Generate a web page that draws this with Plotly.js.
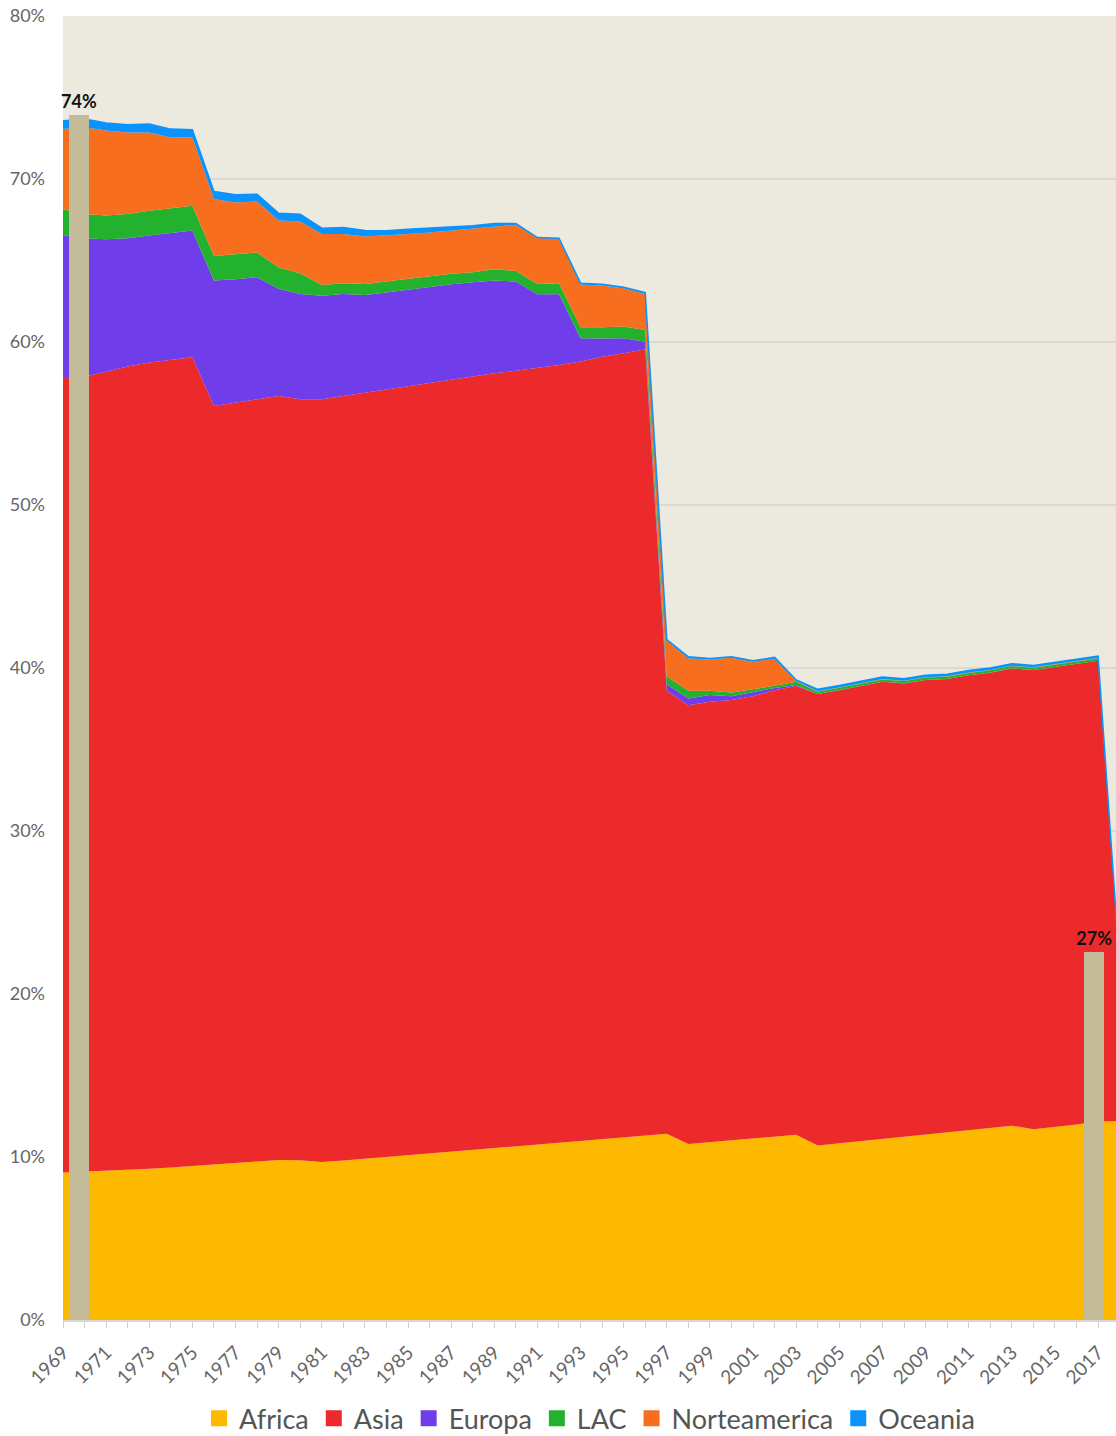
<!DOCTYPE html>
<html>
<head>
<meta charset="utf-8">
<script src="https://cdn.plot.ly/plotly-3.0.1.min.js"></script>
<style>
html,body{margin:0;padding:0;background:#fff;}
#chart{width:1116px;height:1436px;}
</style>
</head>
<body>
<div id="chart"></div>
<script>
const years = [1969,1970,1971,1972,1973,1974,1975,1976,1977,1978,
  1979,1980,1981,1982,1983,1984,1985,1986,1987,1988,
  1989,1990,1991,1992,1993,1994,1995,1996,1997,1998,
  1999,2000,2001,2002,2003,2004,2005,2006,2007,2008,
  2009,2010,2011,2012,2013,2014,2015,2016,2017,2018];

const africa = [9.05,9.1,9.15,9.2,9.28,9.36,9.45,9.55,9.65,9.75,
  9.82,9.8,9.7,9.78,9.89,10.0,10.11,10.22,10.33,10.44,
  10.55,10.66,10.77,10.88,10.99,11.1,11.21,11.32,11.43,10.79,
  10.9,11.0,11.12,11.25,11.37,10.71,10.84,10.98,11.11,11.25,
  11.38,11.51,11.65,11.78,11.92,11.71,11.85,12.0,12.19,12.2];

const asia = [48.73,48.78,49.03,49.29,49.46,49.54,49.62,46.53,46.63,46.74,
  46.87,46.69,46.79,46.91,47.0,47.1,47.19,47.29,47.39,47.44,
  47.53,47.57,47.62,47.71,47.81,48.0,48.1,48.24,27.17,26.93,
  27.03,27.03,27.15,27.39,27.52,27.69,27.8,27.91,28.04,27.8,
  27.88,27.81,27.9,27.93,28.05,28.16,28.22,28.24,28.25,9.5];

const europa = [8.79,8.49,8.13,7.88,7.79,7.78,7.77,7.69,7.57,7.49,
  6.57,6.46,6.34,6.26,6.0,5.93,5.9,5.83,5.83,5.79,
  5.69,5.48,4.54,4.34,1.43,1.11,0.92,0.46,0.41,0.41,
  0.41,0.24,0.27,0.14,0.06,0.01,0.01,0.01,0.01,0.01,
  0.01,0.01,0.01,0.01,0.01,0.01,0.01,0.01,0.01,0];

const lac = [1.58,1.49,1.45,1.48,1.52,1.51,1.52,1.51,1.54,1.51,
  1.31,1.27,0.67,0.66,0.67,0.68,0.65,0.68,0.63,0.61,
  0.7,0.65,0.63,0.68,0.68,0.7,0.72,0.72,0.49,0.47,
  0.26,0.23,0.16,0.13,0.2,0.14,0.14,0.14,0.14,0.14,
  0.14,0.14,0.14,0.14,0.14,0.14,0.14,0.14,0.14,0];

const norteamerica = [4.91,5.32,5.22,5.01,4.81,4.36,4.19,3.49,3.17,3.13,
  2.88,3.17,3.12,3.02,2.91,2.82,2.77,2.7,2.66,2.64,
  2.61,2.83,2.83,2.72,2.61,2.55,2.35,2.21,2.17,1.99,
  1.93,2.13,1.68,1.68,0.05,0.02,0.02,0.02,0.02,0.02,
  0.02,0.02,0.02,0.02,0.02,0.02,0.02,0.02,0.02,0];

const oceania = [0.51,0.5,0.45,0.47,0.51,0.51,0.47,0.46,0.47,0.45,
  0.45,0.45,0.36,0.39,0.37,0.29,0.3,0.26,0.24,0.21,
  0.19,0.08,0.02,0.04,0.09,0.09,0.06,0.08,0.07,0.1,
  0.06,0.06,0.06,0.06,0.06,0.12,0.12,0.12,0.12,0.12,
  0.12,0.12,0.12,0.12,0.12,0.12,0.12,0.12,0.12,0];

const seriesNames = ["Africa","Asia","Europa","LAC","Norteamerica","Oceania"];
const seriesColors = ["#FDB800","#EC2A2C","#703DEB","#23B22D","#F76E1E","#0A93FC"];

// Highlight columns (first and last total)
const highlightX = [1969.74, 2016.82];
const highlightY = [73.9, 22.6];
const highlightLabels = ["74%", "27%"];

const seriesData = [africa, asia, europa, lac, norteamerica, oceania];

const traces = seriesData.map((vals, i) => ({
  type: "scatter",
  mode: "lines",
  x: years,
  y: vals,
  name: seriesNames[i],
  stackgroup: "one",
  fillcolor: seriesColors[i],
  line: {color: seriesColors[i], width: i === 5 ? 1.5 : 0},
  showlegend: false,
  hoverinfo: "skip"
}));

// legend entries with square swatches
seriesNames.forEach((nm, i) => {
  traces.push({
    type: "scatter",
    mode: "markers",
    x: [null],
    y: [null],
    name: nm,
    marker: {symbol: "square", size: 16, color: seriesColors[i]},
    showlegend: true,
    hoverinfo: "skip"
  });
});

traces.push({
  type: "bar",
  x: highlightX,
  y: highlightY,
  width: 0.93,
  xaxis: "x2",
  yaxis: "y2",
  marker: {color: "#C4BC98"},
  text: highlightLabels,
  textposition: "outside",
  constraintext: "none",
  textfont: {family: "Lato, sans-serif", size: 18, color: "#111", weight: 700},
  cliponaxis: false,
  showlegend: false,
  hoverinfo: "skip"
});

const xr = [1969, 2017.83];
const yr = [0, 80];

const layout = {
  width: 1116,
  height: 1436,
  margin: {l: 63, r: 0, t: 16, b: 116},
  paper_bgcolor: "#ffffff",
  plot_bgcolor: "#ECE9DF",
  font: {family: "Lato, sans-serif", color: "#666"},
  showlegend: true,
  legend: {
    orientation: "h",
    x: 0.5, xanchor: "center",
    yref: "container", y: 0.012, yanchor: "middle",
    traceorder: "normal",
    font: {size: 27, color: "#555"}
  },
  xaxis: {
    range: xr,
    tick0: 1969, dtick: 2,
    tickangle: -45,
    ticks: "outside", ticklen: 6, tickcolor: "#d0d0d0", tickwidth: 1,
    minor: {dtick: 1, ticks: "outside", ticklen: 6, tickcolor: "#d0d0d0"},
    showgrid: false,
    showline: true, linecolor: "#d8d8d8", linewidth: 2,
    tickfont: {size: 19, color: "#666"},
    ticklabelstandoff: 6,
    zeroline: false,
    fixedrange: true
  },
  yaxis: {
    range: yr,
    dtick: 10,
    ticksuffix: "%",
    showgrid: true, gridcolor: "#d9d9d9", gridwidth: 2,
    zeroline: false,
    tickfont: {size: 18, color: "#666"},
    ticklabelstandoff: 17,
    fixedrange: true
  },
  xaxis2: {range: xr, overlaying: "x", visible: false, fixedrange: true},
  yaxis2: {range: yr, overlaying: "y", visible: false, fixedrange: true},
  bargap: 0
};

Plotly.newPlot("chart", traces, layout, {displayModeBar: false, staticPlot: true});
</script>
</body>
</html>
